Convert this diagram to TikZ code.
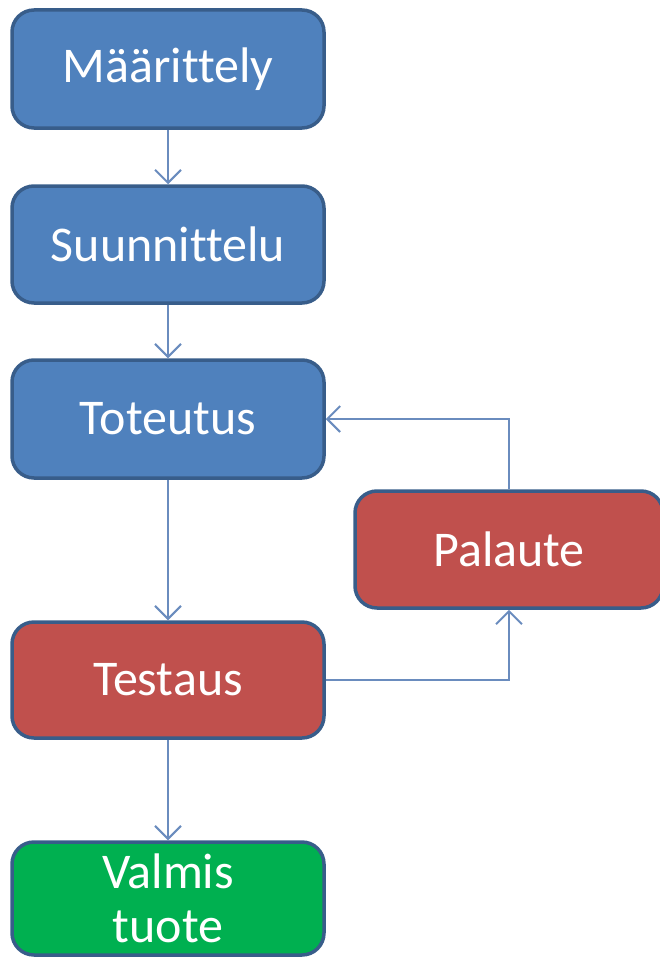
\documentclass[tikz,border=0pt]{standalone}
\usepackage{fontspec}
\setmainfont[Ligatures={NoCommon}]{Carlito}
\usetikzlibrary{arrows.meta,calc}
\definecolor{boxblue}{HTML}{4F81BD}
\definecolor{boxred}{HTML}{C0504D}
\definecolor{boxgreen}{HTML}{00B050}
\definecolor{edgeblue}{HTML}{385D8A}
\definecolor{linkblue}{HTML}{6A8CBE}
\tikzset{
  stage/.style={draw=edgeblue, line width=3.5pt, rounded corners=22pt,
    minimum width=312pt, inner sep=0pt, text=white, align=center,
    font=\fontsize{50}{54}\selectfont},
  link/.style={draw=linkblue, line width=2pt,
    -{Straight Barb[length=13pt,width=26pt,line width=2pt]}}
}
\begin{document}
\begin{tikzpicture}[x=1pt,y=-1pt]
\useasboundingbox (0,0) rectangle (660,958);
\node[stage, fill=boxblue, minimum height=118pt] (m) at (168,69) {Määrittely};
\node[stage, fill=boxblue, minimum height=117pt] (s) at (168,244.5) {Suunnittelu};
\node[stage, fill=boxblue, minimum height=118pt] (t) at (168,419) {Toteutus};
\node[stage, fill=boxred, minimum height=116pt] (x) at (168,680) {Testaus};
\node[stage, fill=boxgreen, minimum height=113pt] (v) at (168,898.5) {Valmis\\tuote};
\node[stage, fill=boxred, minimum height=117pt, minimum width=308pt] (p) at (509,549.5) {Palaute};
\draw[link] (m) -- (s);
\draw[link] (s) -- (t);
\draw[link] (t) -- (x);
\draw[link] (x) -- (v);
\draw[link] (x.east) -| (p.south);
\draw[link] (p.north) |- (t.east);
\end{tikzpicture}
\end{document}
